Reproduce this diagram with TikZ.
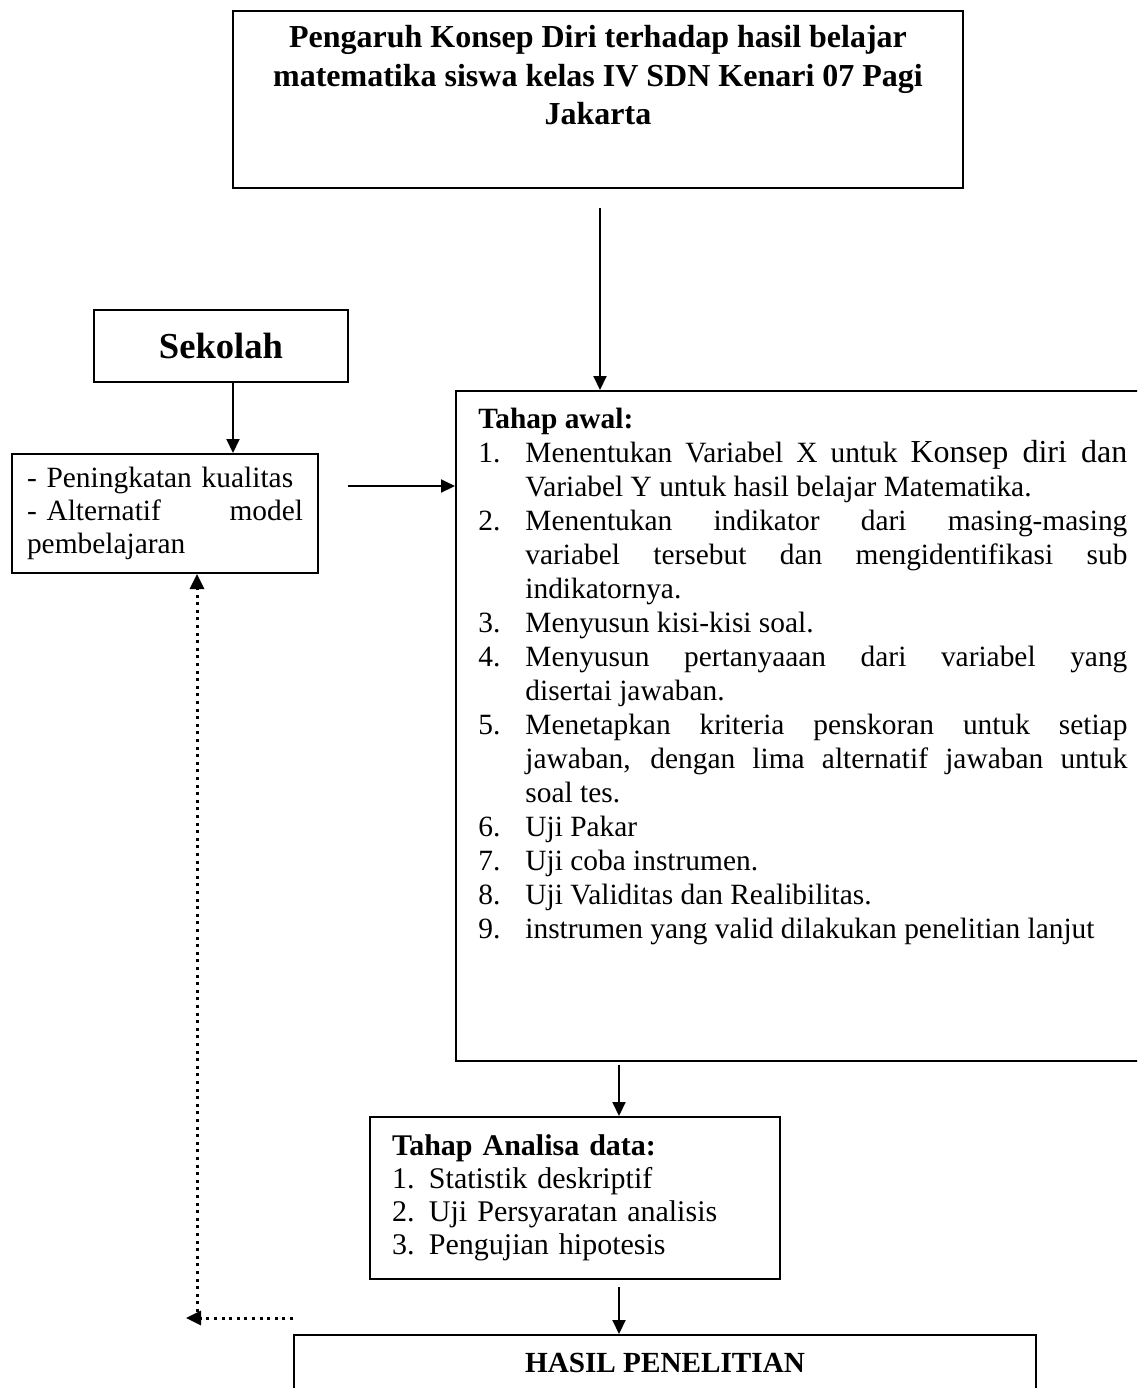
\documentclass[tikz,border=0pt]{standalone}
\usepackage{fontspec}
\setmainfont{Liberation Serif}
\usetikzlibrary{arrows.meta}
\hyphenpenalty=10000
\exhyphenpenalty=10000
\tolerance=9999
\newcommand\butir[2]{\par\noindent\hangindent=23.5pt\hangafter=1\makebox[23.5pt][l]{#1}#2\par}
\begin{document}
\begin{tikzpicture}[x=0.5pt,y=-0.5pt,
    kotak/.style={draw,line width=1pt,inner sep=0pt},
    panah/.style={line width=1pt,-{Triangle[length=7pt,width=6.5pt]}},
    titik/.style={line width=1.5pt,dash pattern=on 1.5pt off 2.3pt,-{Triangle[length=7.5pt,width=7pt]}}]
  \useasboundingbox (0,0) rectangle (1137,1388);
  \clip (0,0) rectangle (1137,1388);
  \node[kotak,minimum width=365pt,minimum height=88.5pt] (judul) at (598,99.5) {};
  \node[anchor=north,inner sep=0pt,align=center,font=\fontsize{16}{19.25}\selectfont\bfseries] (judulteks) at (598,25)
    {Pengaruh Konsep Diri terhadap hasil belajar\\ matematika siswa kelas IV SDN Kenari 07 Pagi\\ Jakarta};
  \node[kotak,minimum width=127pt,minimum height=36pt,font=\fontsize{18.3}{22}\selectfont\bfseries] (sekolah) at (221,346) {Sekolah};
  \node[kotak,minimum width=153pt,minimum height=59.5pt,text width=138pt,align=left,font=\fontsize{14.7}{16.5}\selectfont] (manfaat) at (165,513.5)
    {\mbox{- Peningkatan kualitas}\\- Alternatif\hfill model\\pembelajaran};
  \node[kotak,minimum width=352pt,minimum height=335pt] (awal) at (808,726) {};
  \node[anchor=north west,inner sep=0pt,text width=324.5pt,align=justify,font=\fontsize{14.7}{17}\selectfont] (awalteks) at (478,408)
    {\noindent\textbf{Tahap awal:}\par
     \butir{1.}{Menentukan Variabel X untuk {\fontsize{16}{17}\selectfont Konsep diri dan}\linebreak Variabel Y untuk hasil belajar Matematika.}
     \butir{2.}{Menentukan indikator dari masing-masing\linebreak variabel tersebut dan mengidentifikasi sub\linebreak indikatornya.}
     \butir{3.}{Menyusun kisi-kisi soal.}
     \butir{4.}{Menyusun pertanyaaan dari variabel yang\linebreak disertai jawaban.}
     \butir{5.}{Menetapkan kriteria penskoran untuk setiap\linebreak jawaban, dengan lima alternatif jawaban untuk\linebreak soal tes.}
     \butir{6.}{Uji Pakar}
     \butir{7.}{Uji coba instrumen.}
     \butir{8.}{Uji Validitas dan Realibilitas.}
     \butir{9.}{instrumen yang valid dilakukan penelitian lanjut}};
  \node[kotak,minimum width=205pt,minimum height=81pt,text width=183pt,align=left,font=\fontsize{15}{16.5}\selectfont] (analisa) at (575,1198)
    {\textbf{Tahap Analisa data:}\\ \makebox[18.5pt][l]{1.}Statistik deskriptif\\ \makebox[18.5pt][l]{2.}Uji Persyaratan analisis\\ \makebox[18.5pt][l]{3.}Pengujian hipotesis};
  \node[kotak,minimum width=371pt,minimum height=28pt,font=\fontsize{14.6}{17}\selectfont\bfseries] (hasil) at (665,1363) {HASIL PENELITIAN};
  \coordinate (a1) at (600,0);
  \coordinate (a2) at (233,0);
  \coordinate (a3) at (348,486);
  \coordinate (a4) at (619,0);
  \coordinate (b1) at (293,1318);
  \coordinate (b2) at (186,1318);
  \coordinate (b3) at (197,1312);
  \draw[panah] (judul.south -| a1) ++(0,19) -- (awal.north -| a1);
  \draw[panah] (sekolah.south -| a2) -- (manfaat.north -| a2);
  \draw[panah] (a3) -- (a3 -| awal.west);
  \draw[panah] (awal.south -| a4) ++(0,3) -- (analisa.north -| a4);
  \draw[panah] (analisa.south -| a4) ++(0,7) -- (hasil.north -| a4);
  \draw[titik] (b1) -- (b2);
  \draw[titik] (b3) -- (b3 |- manfaat.south);
\end{tikzpicture}
\end{document}
